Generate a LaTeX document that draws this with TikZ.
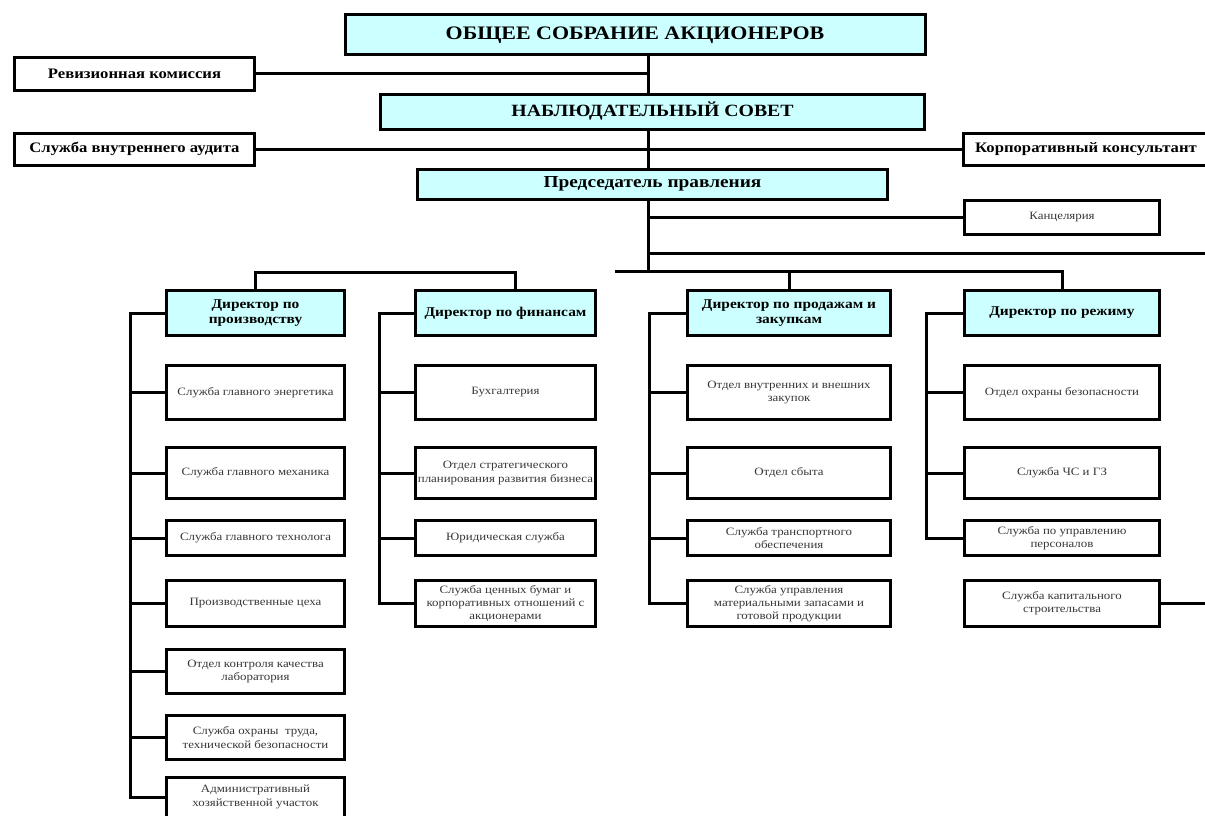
\documentclass[tikz,border=0pt]{standalone}
\usepackage{fontspec}
\setmainfont{Liberation Serif}[FakeStretch=1.15]
\usepackage{xcolor}
\usepackage{tikz}

\definecolor{boxcyan}{RGB}{204,255,255}
\definecolor{unitgray}{RGB}{55,55,55}

\begin{document}
\begin{tikzpicture}[x=1pt, y=-1pt]
            \tikzset{
                box_node/.style={draw, shape = rectangle, line width=3pt, inner sep=0pt, align=center},
                top_node/.style={box_node, fill=boxcyan},
                side_node/.style={box_node, fill=white, font=\bfseries\fontsize{14.5}{16}\selectfont, minimum height=32pt},
                dir_node/.style={box_node, fill=boxcyan, font=\bfseries\fontsize{13.4}{14.5}\selectfont, minimum height=45pt},
                unit_node/.style={box_node, fill=white, text=unitgray, font=\fontsize{11.2}{13.3}\selectfont},
                link/.style={line width=3pt}
            }
            \useasboundingbox (0,0) rectangle (1205,816);
            \node[top_node, font=\bfseries\fontsize{19.1}{21}\selectfont, minimum width=580pt, minimum height=40pt] (A) at (635,35) {ОБЩЕЕ СОБРАНИЕ АКЦИОНЕРОВ};
            \node[side_node, minimum width=240pt] (B) at (134.5,74) {Ревизионная комиссия};
            \node[top_node, font=\bfseries\fontsize{17.2}{19}\selectfont, minimum width=544pt, minimum height=35pt] (C) at (652.5,111.5) {НАБЛЮДАТЕЛЬНЫЙ СОВЕТ};
            \node[side_node, minimum width=240pt] (D) at (134.5,149) {Служба внутреннего аудита};
            \node[side_node, minimum width=245pt] (E) at (1086,149) {Корпоративный консультант};
            \node[top_node, font=\bfseries\fontsize{16.8}{19}\selectfont, minimum width=470pt, minimum height=30pt] (F) at (652.5,184) {Председатель правления};
            \node[unit_node, minimum width=195pt, minimum height=34pt] (G) at (1062,217.5) {Канцелярия};

            \node[dir_node, minimum width=178pt] (DP) at (255.5,313) {Директор по\\производству};
            \node[dir_node, minimum width=180pt] (DF) at (505.5,313) {Директор по финансам};
            \node[dir_node, minimum width=203pt] (DS) at (789,313) {Директор по продажам и\\закупкам};
            \node[dir_node, minimum width=195pt] (DR) at (1062,313) {Директор по режиму};

            \node[unit_node, minimum width=178pt, minimum height=54pt] (P1) at (255.5,392.5) {Служба главного энергетика};
            \node[unit_node, minimum width=178pt, minimum height=51pt] (P2) at (255.5,473) {Служба главного механика};
            \node[unit_node, minimum width=178pt, minimum height=35pt] (P3) at (255.5,538) {Служба главного технолога};
            \node[unit_node, minimum width=178pt, minimum height=46pt] (P4) at (255.5,603.5) {Производственные цеха};
            \node[unit_node, minimum width=178pt, minimum height=44pt] (P5) at (255.5,671.5) {Отдел контроля качества\\лаборатория};
            \node[unit_node, minimum width=178pt, minimum height=44pt] (P6) at (255.5,737.5) {Служба охраны\ \ труда,\\технической безопасности};
            \node[unit_node, minimum width=178pt, minimum height=40pt] (P7) at (255.5,797) {Административный\\хозяйственной участок};

            \node[unit_node, minimum width=180pt, minimum height=54pt] (F1) at (505.5,392.5) {Бухгалтерия};
            \node[unit_node, minimum width=180pt, minimum height=51pt] (F2) at (505.5,473) {Отдел стратегического\\планирования развития бизнеса};
            \node[unit_node, minimum width=180pt, minimum height=35pt] (F3) at (505.5,538) {Юридическая служба};
            \node[unit_node, minimum width=180pt, minimum height=46pt] (F4) at (505.5,603.5) {Служба ценных бумаг и\\корпоративных отношений с\\акционерами};

            \node[unit_node, minimum width=203pt, minimum height=54pt] (S1) at (789,392.5) {Отдел внутренних и внешних\\закупок};
            \node[unit_node, minimum width=203pt, minimum height=51pt] (S2) at (789,473) {Отдел сбыта};
            \node[unit_node, minimum width=203pt, minimum height=35pt] (S3) at (789,538) {Служба транспортного\\обеспечения};
            \node[unit_node, minimum width=203pt, minimum height=46pt] (S4) at (789,603.5) {Служба управления\\материальными запасами и\\готовой продукции};

            \node[unit_node, minimum width=195pt, minimum height=54pt] (R1) at (1062,392.5) {Отдел охраны безопасности};
            \node[unit_node, minimum width=195pt, minimum height=51pt] (R2) at (1062,473) {Служба ЧС и ГЗ};
            \node[unit_node, minimum width=195pt, minimum height=35pt] (R3) at (1062,538) {Служба по управлению\\персоналов};
            \node[unit_node, minimum width=195pt, minimum height=46pt] (R4) at (1062,603.5) {Служба капитального\\строительства};

            \coordinate (T) at (648,0);
            \coordinate (N) at (1205,253);
            \coordinate (M) at (615,271);
            \coordinate (L) at (515,272);
            \draw[link] (A.south -| T) -- (C.north -| T);
            \draw[link] (B.east) -- (B.east -| T);
            \draw[link] (C.south -| T) -- (F.north -| T);
            \draw[link] (D.east) -- (E.west);
            \draw[link] (F.south -| T) -- (M -| T);
            \draw[link] (G.west -| T) -- (G.west);
            \draw[link] (N -| T) -- (N);
            \draw[link] (M) -| (DR.north);
            \draw[link] (M -| DS.north) -- (DS.north);
            \draw[link] (DP.north) |- (L) -- (L |- DF.north);

            \coordinate (bp) at (130,0);
            \coordinate (bf) at (379,0);
            \coordinate (bs) at (649,0);
            \coordinate (br) at (926,0);
            \draw[link] (DP.west) -| (bp |- P7.west) -- (P7.west);
            \foreach \n in {1,...,6} {\draw[link] (bp |- P\n.west) -- (P\n.west);}
            \draw[link] (DF.west) -| (bf |- F4.west) -- (F4.west);
            \foreach \n in {1,2,3} {\draw[link] (bf |- F\n.west) -- (F\n.west);}
            \draw[link] (DS.west) -| (bs |- S4.west) -- (S4.west);
            \foreach \n in {1,2,3} {\draw[link] (bs |- S\n.west) -- (S\n.west);}
            \draw[link] (DR.west) -| (br |- R3.west) -- (R3.west);
            \foreach \n in {1,2} {\draw[link] (br |- R\n.west) -- (R\n.west);}
            \draw[link] (R4.east) -- (R4.east -| N);
        \end{tikzpicture}
\end{document}
